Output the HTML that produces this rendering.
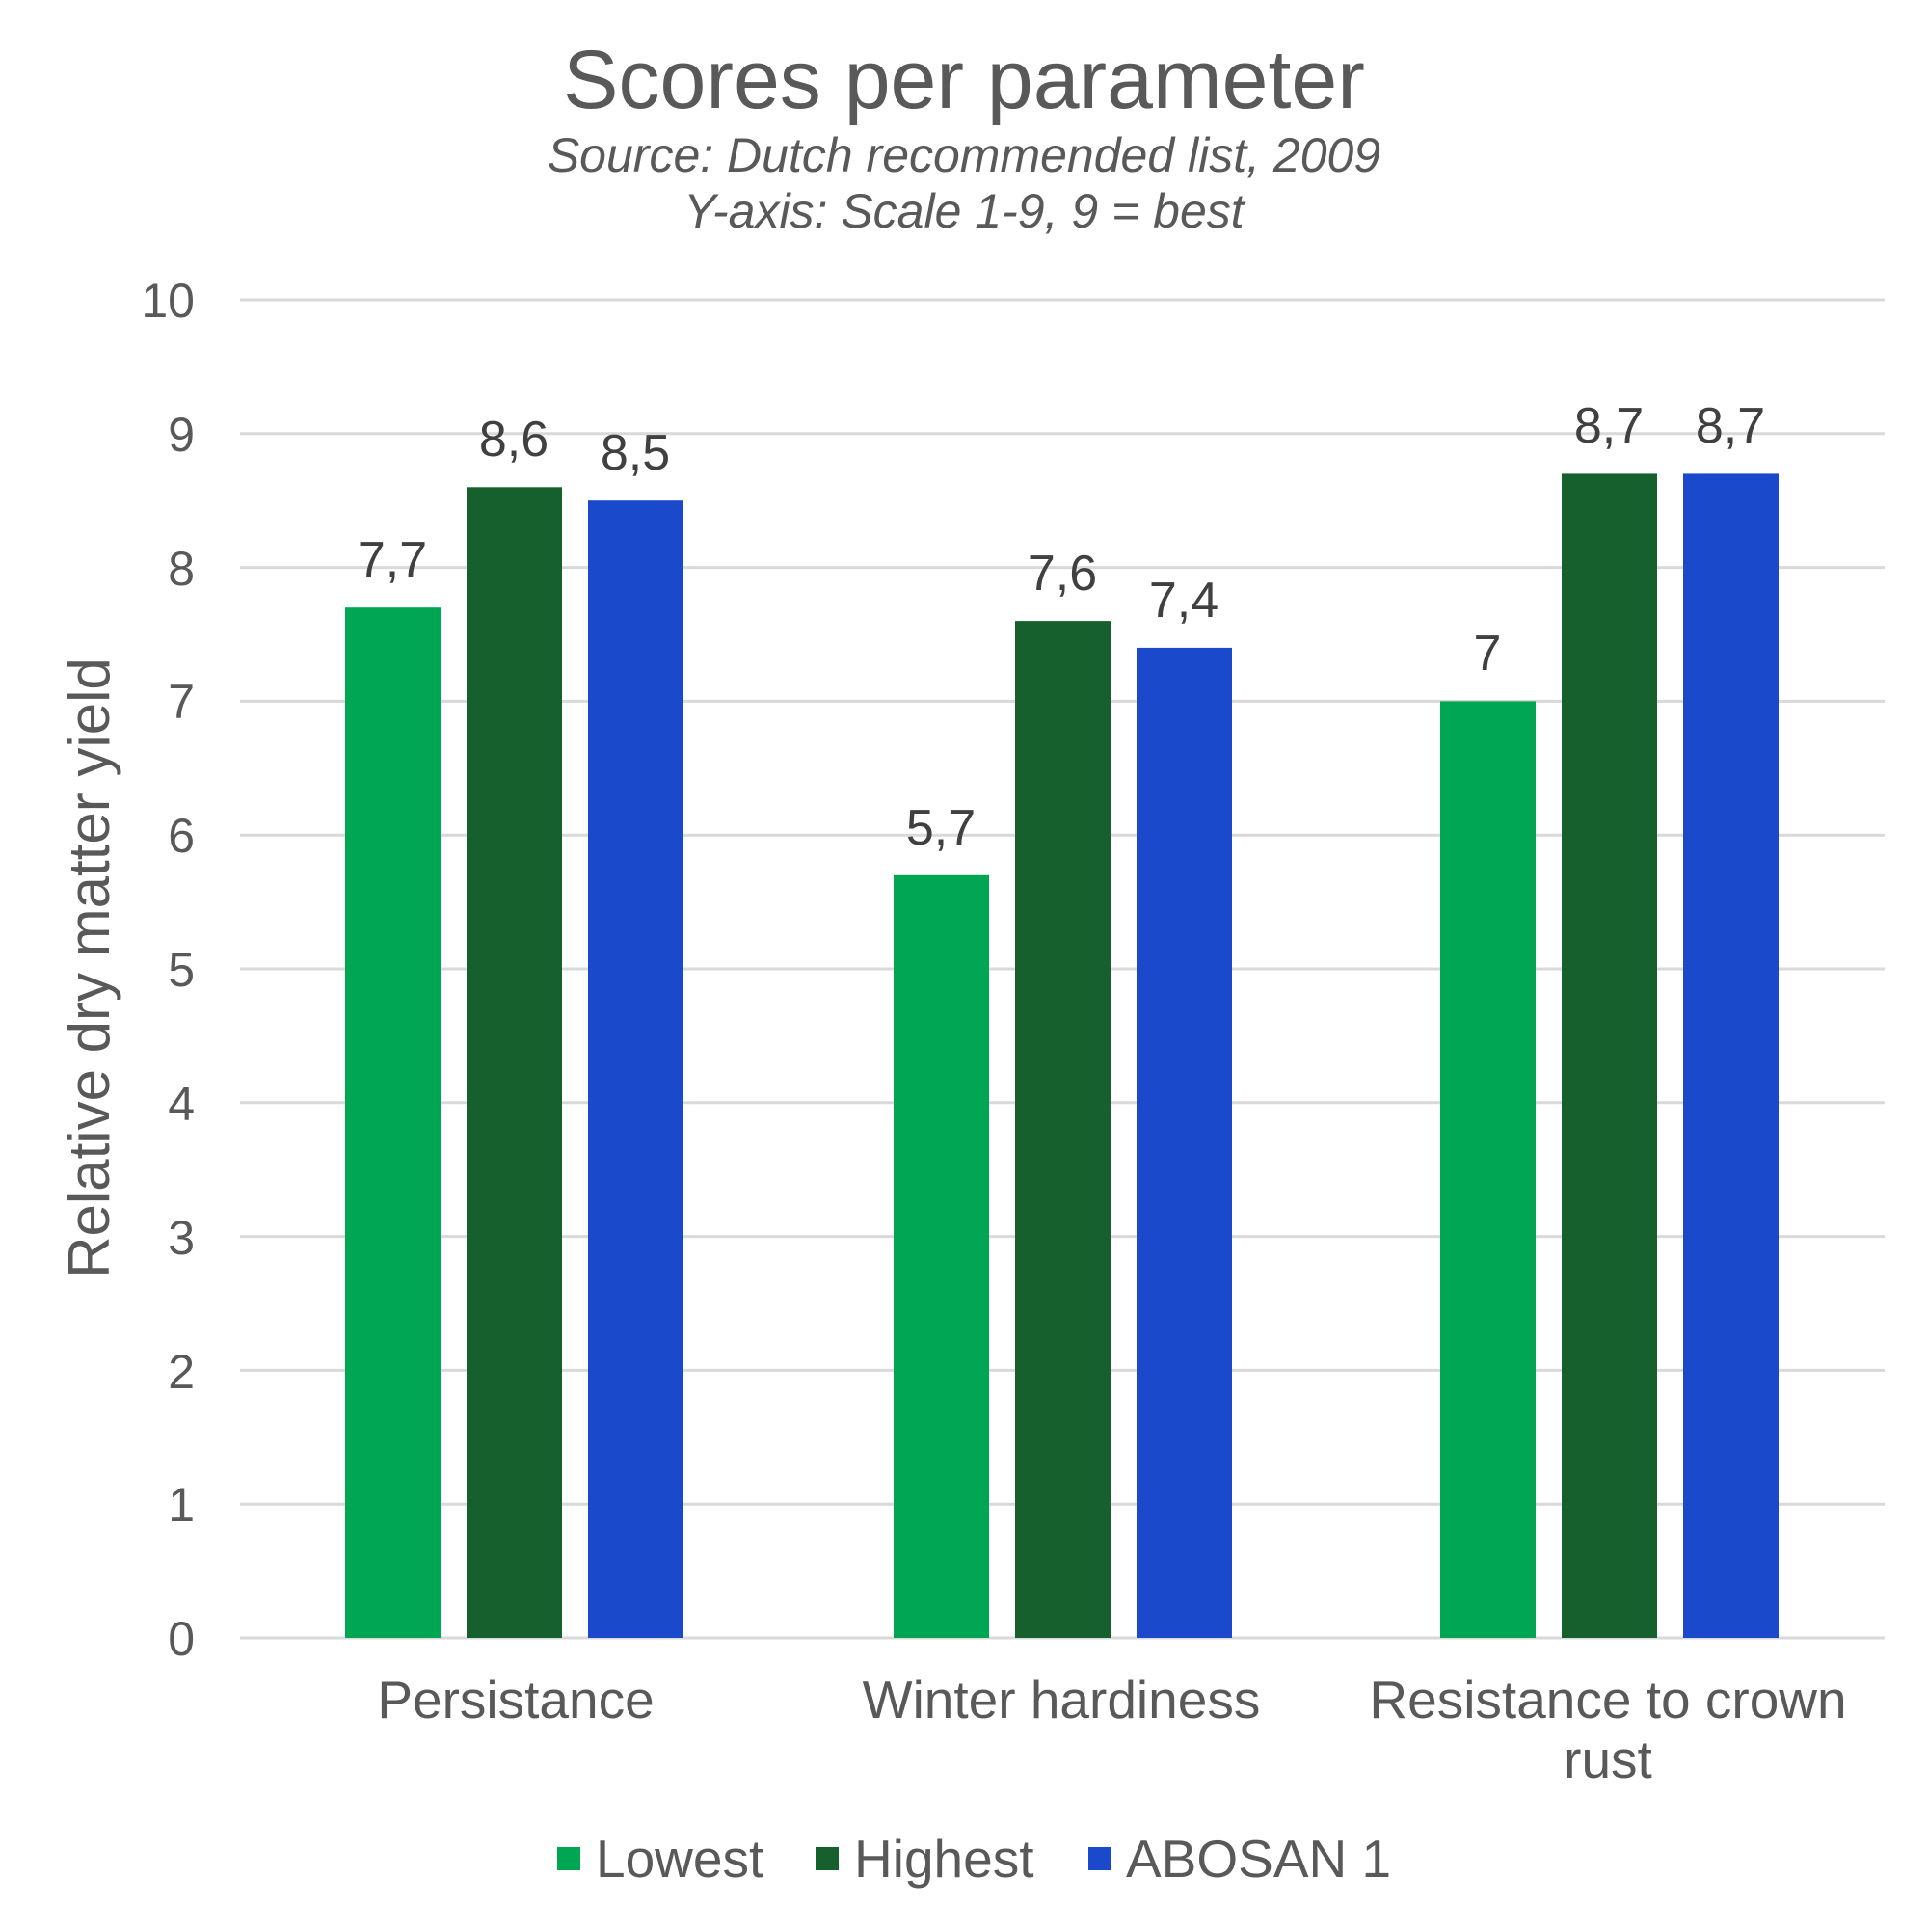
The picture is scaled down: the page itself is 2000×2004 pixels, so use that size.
<!DOCTYPE html>
<html><head><meta charset="utf-8"><style>html,body{margin:0;padding:0;background:#fff}</style></head>
<body>
<svg width="2000" height="1999" xmlns="http://www.w3.org/2000/svg" font-family="Liberation Sans, Arial, sans-serif">
<rect width="2000" height="1999" fill="#fff"/>
<text x="1000" y="112" text-anchor="middle" font-size="86" fill="#595959">Scores per parameter</text>
<text x="1000" y="178" text-anchor="middle" font-size="50" font-style="italic" fill="#595959">Source: Dutch recommended list, 2009</text>
<text x="1000" y="236" text-anchor="middle" font-size="50" font-style="italic" fill="#595959">Y-axis: Scale 1-9, 9 = best</text>
<g transform="translate(0,3)">
<g stroke="#d9d9d9" stroke-width="3">
<line x1="249" x2="1955" y1="308" y2="308"/><line x1="249" x2="1955" y1="446.8" y2="446.8"/>
<line x1="249" x2="1955" y1="585.6" y2="585.6"/><line x1="249" x2="1955" y1="724.4" y2="724.4"/>
<line x1="249" x2="1955" y1="863.2" y2="863.2"/><line x1="249" x2="1955" y1="1002" y2="1002"/>
<line x1="249" x2="1955" y1="1140.8" y2="1140.8"/><line x1="249" x2="1955" y1="1279.6" y2="1279.6"/>
<line x1="249" x2="1955" y1="1418.4" y2="1418.4"/><line x1="249" x2="1955" y1="1557.2" y2="1557.2"/>
<line x1="249" x2="1955" y1="1696" y2="1696"/>
</g>
<g font-size="50" fill="#595959" text-anchor="end">
<text x="202" y="326">10</text><text x="202" y="465">9</text><text x="202" y="604">8</text><text x="202" y="742">7</text>
<text x="202" y="881">6</text><text x="202" y="1020">5</text><text x="202" y="1159">4</text><text x="202" y="1298">3</text>
<text x="202" y="1437">2</text><text x="202" y="1575">1</text><text x="202" y="1714">0</text>
</g>
<rect x="358" y="627.2" width="99" height="1068.8" fill="#00a651"/>
<rect x="484" y="502.3" width="99" height="1193.7" fill="#16602d"/>
<rect x="610" y="516.2" width="99" height="1179.8" fill="#1a49cc"/>
<rect x="927" y="904.8" width="99" height="791.2" fill="#00a651"/>
<rect x="1053" y="641.1" width="99" height="1054.9" fill="#16602d"/>
<rect x="1179" y="668.9" width="99" height="1027.1" fill="#1a49cc"/>
<rect x="1494" y="724.4" width="99" height="971.6" fill="#00a651"/>
<rect x="1620" y="488.4" width="99" height="1207.6" fill="#16602d"/>
<rect x="1746" y="488.4" width="99" height="1207.6" fill="#1a49cc"/>
<g font-size="52" fill="#404040" text-anchor="middle">
<text x="407" y="595">7,7</text><text x="533" y="470">8,6</text><text x="659" y="484">8,5</text>
<text x="976" y="873">5,7</text><text x="1102" y="609">7,6</text><text x="1228" y="637">7,4</text>
<text x="1543" y="692">7</text><text x="1669" y="456">8,7</text><text x="1795" y="456">8,7</text>
</g>
</g>
<text transform="translate(113,1004) rotate(-90)" text-anchor="middle" font-size="60" fill="#595959">Relative dry matter yield</text>
<g font-size="55" fill="#595959" text-anchor="middle">
<text x="535" y="1782">Persistance</text>
<text x="1101" y="1782">Winter hardiness</text>
<text x="1668" y="1782">Resistance to crown</text>
<text x="1668" y="1844">rust</text>
</g>
<rect x="578" y="1916" width="24" height="24" fill="#00a651"/>
<rect x="846" y="1916" width="24" height="24" fill="#16602d"/>
<rect x="1129" y="1916" width="24" height="24" fill="#1a49cc"/>
<g font-size="55" fill="#595959">
<text x="618" y="1947">Lowest</text>
<text x="886" y="1947">Highest</text>
<text x="1168" y="1947">ABOSAN 1</text>
</g>
</svg>
</body></html>
